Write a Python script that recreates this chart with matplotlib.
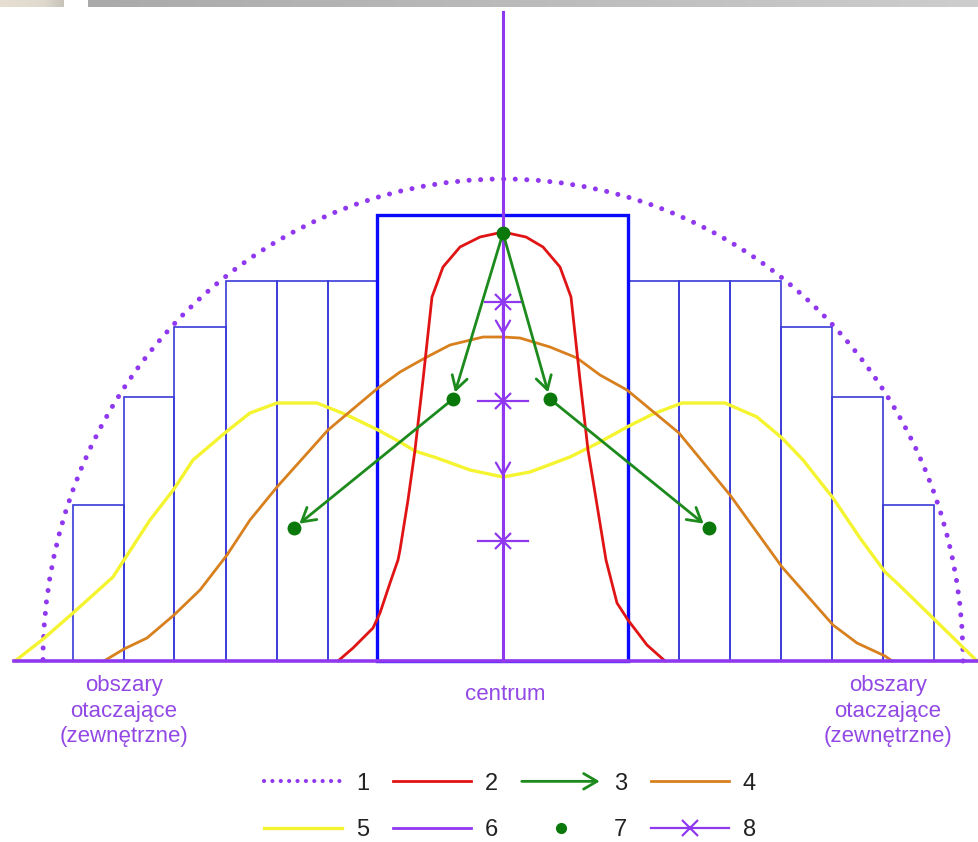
import numpy as np
import matplotlib
matplotlib.use("Agg")
import matplotlib.pyplot as plt
from matplotlib.patches import Arc, FancyArrowPatch
from matplotlib.lines import Line2D
from matplotlib.colors import LinearSegmentedColormap
from matplotlib.legend_handler import HandlerBase

plt.rcParams['font.family'] = ['Liberation Sans', 'DejaVu Sans']

# coordinates: x relative to the centre line, y = height above the baseline (pixel-like units)
# histogram bars (6 on each side + wide central bar)
bar_edges = [-430, -379, -329, -277, -226, -175, -126, 125, 176, 227, 278, 329, 380, 431]
bar_heights = [156, 264, 334, 380, 380, 380, 446, 380, 380, 380, 334, 264, 156]

# curve 2 (red) - narrow peak
red_x = [-165, -150, -130, -123, -113, -105, -103, -95, -88, -80, -71, -60, -43, -23, 0,
         23, 40, 57, 68, 77, 85, 95, 103, 114, 125, 144, 162]
red_y = [0, 13, 33, 48, 78, 101, 111, 161, 211, 281, 364, 394, 414, 424, 429,
         424, 414, 394, 364, 281, 211, 150, 101, 58, 41, 16, 0]

# curve 4 (orange) - wide bell
orange_x = [-399, -379, -356, -329, -303, -276, -253, -226, -175, -125, -103, -78, -53, -20, 0,
            17, 47, 74, 97, 124, 176, 227, 279, 330, 354, 382, 389]
orange_y = [0, 12, 23, 46, 71, 106, 141, 174, 231, 273, 289, 303, 316, 324, 324,
            323, 314, 303, 286, 271, 228, 166, 94, 36, 18, 5, 0]

# curve 5 (yellow) - two humps
yellow_x = [-488, -461, -430, -390, -379, -353, -329, -310, -277, -253, -226, -186, -156, -125,
            -103, -88, -66, -33, 0, 27, 67, 97, 124, 150, 179, 222, 254, 279, 300, 330, 357,
            382, 394, 432, 474]
yellow_y = [0, 21, 48, 84, 101, 141, 172, 201, 229, 248, 258, 258, 246, 231,
            219, 210, 203, 191, 184, 189, 204, 219, 234, 247, 258, 258, 244, 223, 201, 163, 123,
            89, 78, 41, 0]

# points 7 and arrows 3 (index pairs into the point list)
pts_x = [0, -50, 47, -209, 206]
pts_y = [428, 262, 262, 133, 133]
arrows = [(0, 1), (0, 2), (1, 3), (2, 4)]

# markers 8 on the centre line and the arrows between them
cross_y = [359, 260, 120]
cross_half = [18, 25, 25]
down_arrows = [(359, 326), (260, 184)]

# envelope 1 (dotted half ellipse)
env_w, env_h = 920, 964

label_side = "obszary\notaczające\n(zewnętrzne)"
label_center = "centrum"
legend_labels = ['1', '5', '2', '6', '3', '7', '4', '8']

c_violet = '#9038f0'
c_text = '#9248e4'
c_blue = '#0a0aff'
c_thin = '#3a3ad8'
c_red = '#e01414'
c_orange = '#d8801e'
c_yellow = '#f4f430'
c_green = '#1c8a1c'
c_dot = '#0a780a'

fig = plt.figure(figsize=(9.79, 8.42), dpi=100)
ax = fig.add_axes([0, 0, 1, 1])
ax.set_xlim(-503, 476)
ax.set_ylim(-181, 661)
ax.axis('off')

# slide header strip
grad = LinearSegmentedColormap.from_list('g', ['#aaaaaa', '#cdcdcd'])
ax.imshow(np.linspace(0, 1, 200).reshape(1, -1), cmap=grad, aspect='auto',
          extent=[-415, 476, 654, 661], zorder=0)
ax.imshow(np.linspace(0, 1, 50).reshape(1, -1),
          cmap=LinearSegmentedColormap.from_list('b', ['#e6dfd2', '#e3ddd0', '#e0dace', '#c9c4bb']),
          aspect='auto', extent=[-503, -439, 654, 661], zorder=0)

# bars
edges = np.array(bar_edges)
widths = np.diff(edges)
side = [i for i in range(len(bar_heights)) if i != 6]
ax.bar(edges[side], [bar_heights[i] for i in side], width=widths[side], align='edge',
       fill=False, edgecolor=c_thin, lw=1.2, zorder=2)
ax.bar(edges[6], bar_heights[6], width=widths[6], align='edge', fill=False,
       edgecolor=c_blue, lw=2.4, zorder=2)

# envelope
ax.add_patch(Arc((0, 0), env_w, env_h, theta1=0, theta2=180, color=c_violet, lw=3.6,
                 linestyle=(0, (0.01, 2.3)), capstyle='round', zorder=3))

# curves
ax.plot(yellow_x, yellow_y, color=c_yellow, lw=2.4, zorder=3)
ax.plot(orange_x, orange_y, color=c_orange, lw=2.0, zorder=3)
ax.plot(red_x, red_y, color=c_red, lw=2.0, zorder=3)

# centre line and baseline
ax.plot([0, 0], [0, 649], color=c_violet, lw=2.2, zorder=4)
ax.plot([-489, 476], [0, 0], color=c_violet, lw=2.6, zorder=4)

for a, b in down_arrows:
    ax.annotate('', xy=(0, b), xytext=(0, a),
                arrowprops=dict(arrowstyle='->,head_length=0.55,head_width=0.32', color=c_violet,
                                lw=1.6, shrinkA=0, shrinkB=0, mutation_scale=16), zorder=5)
for y, hw in zip(cross_y, cross_half):
    ax.plot([-hw, hw], [y, y], color=c_violet, lw=1.6, zorder=5)
    ax.plot([0], [y], marker='x', ms=11, mew=1.6, color=c_violet, zorder=5)

# green arrows and points
for i, j in arrows:
    ax.annotate('', xy=(pts_x[j], pts_y[j]), xytext=(pts_x[i], pts_y[i]),
                arrowprops=dict(arrowstyle='->,head_length=0.6,head_width=0.35', color=c_green,
                                lw=2.0, shrinkA=0, shrinkB=5, mutation_scale=16), zorder=6)
ax.plot(pts_x, pts_y, 'o', color=c_dot, ms=9, zorder=7)

# labels (va='baseline' pins the last line of a multi-line text)
ax.text(-379, -81, label_side, ha='center', va='baseline', fontsize=16, color=c_text,
        linespacing=1.28)
ax.text(385, -81, label_side, ha='center', va='baseline', fontsize=16, color=c_text,
        linespacing=1.28)
ax.text(2, -39, label_center, ha='center', va='baseline', fontsize=16, color=c_text)


class ArrowHandler(HandlerBase):
    def create_artists(self, legend, orig_handle, xdescent, ydescent, width, height,
                       fontsize, trans):
        y = height / 2 - ydescent
        p = FancyArrowPatch((-xdescent, y), (width - xdescent, y),
                            arrowstyle='->,head_length=0.6,head_width=0.35', mutation_scale=16,
                            color=c_green, lw=2.0, shrinkA=0, shrinkB=0, transform=trans)
        return [p]


h1 = Line2D([], [], color=c_violet, lw=3.0, linestyle=(0, (0.01, 2.0)),
            dash_capstyle='round')
h2 = Line2D([], [], color=c_red, lw=2.0)
h3 = FancyArrowPatch((0, 0), (1, 0))
h4 = Line2D([], [], color=c_orange, lw=2.0)
h5 = Line2D([], [], color=c_yellow, lw=2.4)
h6 = Line2D([], [], color=c_violet, lw=2.0)
h7 = Line2D([], [], color=c_dot, ls='none', marker='o', ms=7)
h8 = Line2D([], [], color=c_violet, lw=1.6, marker='x', ms=12, mew=1.6)

leg = ax.legend([h1, h5, h2, h6, h3, h7, h4, h8], legend_labels, ncol=4, loc='center',
                bbox_to_anchor=(7, -146), bbox_transform=ax.transData, frameon=False,
                fontsize=17, handlelength=3.3, handletextpad=0.6, columnspacing=1.0,
                labelspacing=1.05, numpoints=1, handler_map={h3: ArrowHandler()})
for t in leg.get_texts():
    t.set_color('#222222')

fig.savefig('out.png', dpi=100)
